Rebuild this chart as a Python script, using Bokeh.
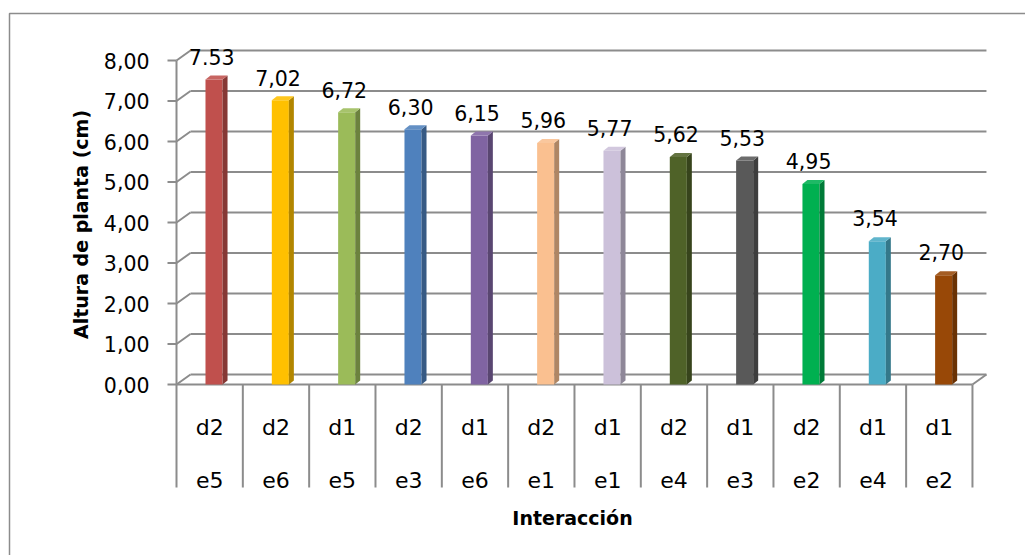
from bokeh.plotting import figure
from bokeh.models import Range1d, ColumnDataSource
from bokeh.core.properties import value
from bokeh.embed import file_html
from bokeh.resources import INLINE

# --- data -------------------------------------------------------------
dosis = ["d2", "d2", "d1", "d2", "d1", "d2", "d1", "d2", "d1", "d2", "d1", "d1"]
ecotipo = ["e5", "e6", "e5", "e3", "e6", "e1", "e1", "e4", "e3", "e2", "e4", "e2"]
altura = [7.53, 7.02, 6.72, 6.30, 6.15, 5.96, 5.77, 5.62, 5.53, 4.95, 3.54, 2.70]
etiquetas = ["7.53", "7,02", "6,72", "6,30", "6,15", "5,96", "5,77", "5,62",
             "5,53", "4,95", "3,54", "2,70"]
y_ticks = [0, 1, 2, 3, 4, 5, 6, 7, 8]
y_tick_labels = [f"{t:.2f}".replace(".", ",") for t in y_ticks]
colores = ["#C0504D", "#FFC000", "#9BBB59", "#4F81BD", "#8064A2", "#FAC090",
           "#CCC1DA", "#4F6228", "#595959", "#00B050", "#4BACC6", "#984807"]
eje_y_titulo = "Altura de planta (cm)"
eje_x_titulo = "Interacción"

# --- layout (pixel geometry of the canvas) -----------------------------
W, H = 1025, 555
X0, Y0 = 176.0, 384.0          # pixel position of category 0 / value 0
SX, SY = 66.33, 40.5           # pixels per category / per unit of height
n = len(altura)


def u(px):
    return (px - X0) / SX


def v(py):
    return (Y0 - py) / SY


DU, DV = 14 / SX, 10 / SY      # depth of the walls
BDU, BDV = 5 / SX, 4 / SY      # depth of each column
BAR_L, BAR_R = 0.437, 0.694    # column front face within its category

p = figure(width=W, height=H, output_backend="svg", toolbar_location=None,
           x_range=Range1d(u(0), u(W)), y_range=Range1d(v(H), v(0)),
           x_axis_location=None, y_axis_location=None, min_border=0)
p.outline_line_color = None
p.grid.visible = False
p.background_fill_color = "white"
p.border_fill_color = "white"

grid_col = "#8c8c8c"
font = value("DejaVu Sans")

# chart area border
p.quad(left=[u(9)], right=[u(1040)], top=[v(13)], bottom=[v(570)],
       fill_color=None, line_color="#8c8c8c", line_width=1.5)

# walls, gridlines, floor and axis
x0s, y0s, x1s, y1s = [], [], [], []
for t in y_ticks:
    x0s += [u(167), 0, DU]
    y0s += [t, t, t + DV]
    x1s += [0, DU, n + DU]
    y1s += [t, t + DV, t + DV]
# front axis line
x0s.append(0); y0s.append(0); x1s.append(0); y1s.append(y_ticks[-1])
# floor front edge and right edge
x0s += [0, n]; y0s += [0, 0]; x1s += [n, n + DU]; y1s += [0, DV]
# category separators
for k in range(n + 1):
    x0s.append(k); y0s.append(0); x1s.append(k); y1s.append(v(487))
p.segment(x0=x0s, y0=y0s, x1=x1s, y1=y1s, line_color=grid_col, line_width=2)


def shade(hex_color, f):
    r, g, b = (int(hex_color[i:i + 2], 16) for i in (1, 3, 5))
    if f < 1:
        r, g, b = (int(c * f) for c in (r, g, b))
    else:
        r, g, b = (int(c + (255 - c) * (f - 1)) for c in (r, g, b))
    return "#%02x%02x%02x" % (r, g, b)


idx = list(range(n))
left = [i + BAR_L for i in idx]
right = [i + BAR_R for i in idx]

# front faces
p.quad(left=left, right=right, bottom=0, top=altura,
       fill_color=colores, line_color=None)

# side and top faces
side_xs, side_ys, top_xs, top_ys = [], [], [], []
for l, r, h in zip(left, right, altura):
    side_xs.append([r, r + BDU, r + BDU, r])
    side_ys.append([0, BDV, h + BDV, h])
    top_xs.append([l, r, r + BDU, l + BDU])
    top_ys.append([h, h, h + BDV, h + BDV])
p.patches(side_xs, side_ys, fill_color=[shade(c, 0.7) for c in colores],
          line_color=None)
p.patches(top_xs, top_ys, fill_color=[shade(c, 1.12) for c in colores],
          line_color=None)

# value labels
lab = ColumnDataSource(dict(x=[i + 0.53 for i in idx],
                            y=[h + 0.56 for h in altura], t=etiquetas))
p.text(x="x", y="y", text="t", source=lab, text_font=font,
       text_font_size="20.5px", text_align="center",
       text_baseline="alphabetic", text_color="black")

# y tick labels
p.text(x=[u(149)] * len(y_ticks), y=y_ticks, text=y_tick_labels,
       text_font=font, text_font_size="20.5px", text_align="right",
       text_baseline="middle", text_color="black")

# category labels (two rows)
cx = [i + 0.5 for i in idx]
p.text(x=cx, y=[v(427)] * n, text=dosis, text_font=font,
       text_font_size="22px", text_align="center",
       text_baseline="alphabetic", text_color="black")
p.text(x=cx, y=[v(479)] * n, text=ecotipo, text_font=font,
       text_font_size="22px", text_align="center",
       text_baseline="alphabetic", text_color="black")

# axis titles
p.text(x=[u(80)], y=[v(224)], text=[eje_y_titulo], angle=1.5707963,
       text_font=font, text_font_size="19px", text_font_style="bold",
       text_align="center", text_baseline="middle", text_color="black")
p.text(x=[u(572)], y=[v(517)], text=[eje_x_titulo], text_font=font,
       text_font_size="19px", text_font_style="bold", text_align="center",
       text_baseline="alphabetic", text_color="black")

open("out.html", "w").write(file_html(p, INLINE))
